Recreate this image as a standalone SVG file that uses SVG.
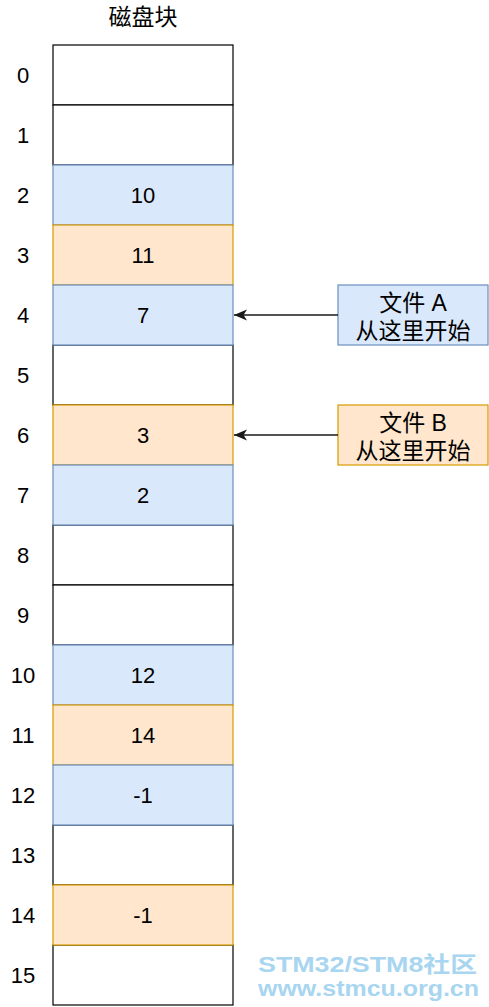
<svg xmlns="http://www.w3.org/2000/svg" width="489" height="1007" viewBox="0 0 489 1007">
<style>
text{font-family:"Liberation Sans","Noto Sans CJK SC",sans-serif;font-size:22px;fill:#000;text-anchor:middle}
.cj{font-size:23px}
.w{fill:#fff;stroke:#000;stroke-width:1.2}
.b{fill:#dae8fc;stroke:#6c8ebf;stroke-width:1.2}
.o{fill:#ffe6cc;stroke:#d79b00;stroke-width:1.2}
.e{stroke:#1a1a1a;stroke-width:1.5;fill:none}
.wm{font-weight:bold;fill:#a8d5ef;text-anchor:start}
</style>
<defs>
<marker id="ar" markerWidth="14" markerHeight="12" refX="13" refY="6" orient="auto" markerUnits="userSpaceOnUse">
<path d="M0,0.5 L13,6 L0,11.5 L3.5,6 Z" fill="#1a1a1a"/>
</marker>
</defs>
<rect width="489" height="1007" fill="#fff"/>
<g id="title"><text class="cj" x="143" y="25">磁盘块</text></g>
<g id="labels">
<text x="23" y="83">0</text>
<text x="23" y="143">1</text>
<text x="23" y="203">2</text>
<text x="23" y="263">3</text>
<text x="23" y="323">4</text>
<text x="23" y="383">5</text>
<text x="23" y="443">6</text>
<text x="23" y="503">7</text>
<text x="23" y="563">8</text>
<text x="23" y="623">9</text>
<text x="23" y="683">10</text>
<text x="23" y="743">11</text>
<text x="23" y="803">12</text>
<text x="23" y="863">13</text>
<text x="23" y="923">14</text>
<text x="23" y="983">15</text>
</g>
<g id="block0"><rect class="w" x="53" y="45" width="180" height="60"/></g>
<g id="block1"><rect class="w" x="53" y="105" width="180" height="60"/></g>
<g id="block5"><rect class="w" x="53" y="345" width="180" height="60"/></g>
<g id="block8"><rect class="w" x="53" y="525" width="180" height="60"/></g>
<g id="block9"><rect class="w" x="53" y="585" width="180" height="60"/></g>
<g id="block13"><rect class="w" x="53" y="825" width="180" height="60"/></g>
<g id="block15"><rect class="w" x="53" y="945" width="180" height="60"/></g>
<g id="block2"><rect class="b" x="53" y="165" width="180" height="60"/><text x="143" y="203">10</text></g>
<g id="block3"><rect class="o" x="53" y="225" width="180" height="60"/><text x="143" y="263">11</text></g>
<g id="block4"><rect class="b" x="53" y="285" width="180" height="60"/><text x="143" y="323">7</text></g>
<g id="block6"><rect class="o" x="53" y="405" width="180" height="60"/><text x="143" y="443">3</text></g>
<g id="block7"><rect class="b" x="53" y="465" width="180" height="60"/><text x="143" y="503">2</text></g>
<g id="block10"><rect class="b" x="53" y="645" width="180" height="60"/><text x="143" y="683">12</text></g>
<g id="block11"><rect class="o" x="53" y="705" width="180" height="60"/><text x="143" y="743">14</text></g>
<g id="block12"><rect class="b" x="53" y="765" width="180" height="60"/><text x="143" y="803">-1</text></g>
<g id="block14"><rect class="o" x="53" y="885" width="180" height="60"/><text x="143" y="923">-1</text></g>
<g id="fileA"><rect class="b" x="338" y="285" width="150" height="60"/><text class="cj" x="413" y="311">文件 A</text><text class="cj" x="413" y="339">从这里开始</text></g>
<g id="fileB"><rect class="o" x="338" y="405" width="150" height="60"/><text class="cj" x="413" y="431">文件 B</text><text class="cj" x="413" y="459">从这里开始</text></g>
<g id="connectors">
<path class="e" d="M338,315 L234,315" marker-end="url(#ar)"/>
<path class="e" d="M338,435 L234,435" marker-end="url(#ar)"/>
</g>
<g id="watermark">
<text class="wm" x="258" y="972" font-size="23" textLength="219" lengthAdjust="spacingAndGlyphs">STM32/STM8社区</text>
<text class="wm" x="258" y="996" font-size="21" textLength="221" lengthAdjust="spacingAndGlyphs">www.stmcu.org.cn</text>
</g>
</svg>
